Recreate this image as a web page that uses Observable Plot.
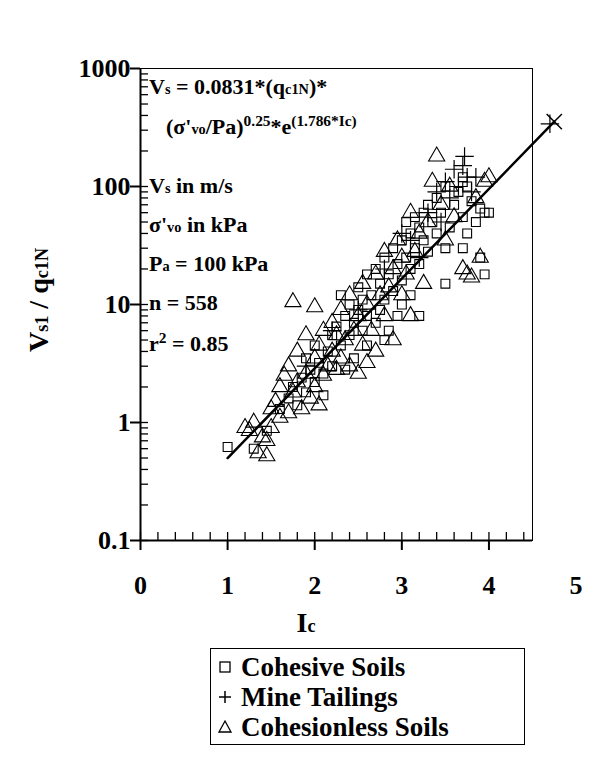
<!DOCTYPE html>
<html><head><meta charset="utf-8">
<script src="https://cdn.jsdelivr.net/npm/d3@7"></script>
<script src="https://cdn.jsdelivr.net/npm/@observablehq/plot@0.6"></script>
<style>
body{margin:0;background:#fff;font-family:'Liberation Serif','Times New Roman',Times,serif;}
#wrap{position:relative;width:604px;height:760px;}
#legend{position:absolute;left:210px;top:648px;width:315px;height:97px;border:1px solid #000;font-weight:bold;font-size:27px;line-height:30px;padding-top:3px;box-sizing:border-box;}
#legend div{display:flex;align-items:center;padding-left:6px;}
#legend svg{margin-right:8px;}
</style></head>
<body><div id="wrap"><div id="chart"></div>
<div id="legend">
<div><svg width="16" height="16"><rect x="3" y="3" width="10" height="10" fill="none" stroke="#000" stroke-width="1.3"/></svg>Cohesive Soils</div>
<div><svg width="16" height="16"><path d="M8 2V14M2 8H14" stroke="#000" stroke-width="1.5"/></svg>Mine Tailings</div>
<div><svg width="16" height="16"><path d="M8 2L14 13H2Z" fill="none" stroke="#000" stroke-width="1.3"/></svg>Cohesionless Soils</div>
</div></div>
<script>
const cohesive = [[1.0,0.62],[1.3,0.6],[1.45,0.85],[1.6,1.3],[1.7,1.6],[1.75,2.0],[1.8,1.4],[1.85,2.4],[1.9,1.8],[1.95,2.8],[2.0,2.2],[2.05,3.2],[2.1,2.6],[2.15,4.0],[2.2,3.0],[2.2,5.5],[2.25,6.5],[2.3,4.5],[2.3,12],[2.35,8],[2.4,5.5],[2.4,10],[2.45,7],[2.5,9],[2.5,14],[2.55,6],[2.55,11],[2.6,8],[2.6,18],[2.65,12],[2.7,20],[2.7,7],[2.75,15],[2.75,9],[2.8,25],[2.8,11],[2.85,18],[2.85,6],[2.9,30],[2.9,13],[2.95,22],[2.95,8],[3.0,35],[3.0,16],[3.0,10],[3.05,50],[3.05,25],[3.1,40],[3.1,20],[3.1,12],[3.15,30],[3.15,55],[3.2,45],[3.2,22],[3.25,60],[3.25,35],[3.3,70],[3.3,28],[3.35,50],[3.4,40],[3.4,80],[3.45,60],[3.5,100],[3.5,30],[3.55,45],[3.6,70],[3.65,90],[3.7,120],[3.7,55],[3.75,100],[3.75,40],[3.8,75],[3.85,50],[3.9,65],[3.95,60],[4.0,60],[3.9,25],[3.95,18],[3.7,30],[2.0,4.5],[1.9,3.5],[2.6,4.5],[2.8,5],[2.45,3.5],[3.2,8],[3.5,15],[2.35,2.8],[2.1,1.7]];
const tailings = [[3.3,60],[3.4,90],[3.45,50],[3.5,110],[3.55,80],[3.6,140],[3.65,100],[3.7,150],[3.72,180],[3.75,120],[3.8,90],[3.85,120],[3.1,35],[3.2,25],[2.8,20],[2.5,9],[2.2,6],[1.9,3],[3.0,40],[4.7,340]];
const cohesionless = [[1.2,0.9],[1.3,1.0],[1.35,0.55],[1.45,0.52],[1.45,0.7],[1.5,1.3],[1.5,0.9],[1.55,1.5],[1.6,2.0],[1.6,1.1],[1.65,2.5],[1.7,1.2],[1.7,3.0],[1.75,1.8],[1.75,10.5],[1.8,2.2],[1.8,4.0],[1.85,1.3],[1.9,2.6],[1.9,5.5],[1.95,1.6],[2.0,3.5],[2.0,2.0],[2.05,1.4],[2.05,4.5],[2.1,6],[2.1,2.5],[2.15,3.0],[2.2,7],[2.2,4.0],[2.25,2.8],[2.3,9],[2.3,3.5],[2.35,5],[2.4,12],[2.4,3.0],[2.45,6],[2.5,8],[2.5,2.6],[2.55,15],[2.55,4.5],[2.6,10],[2.65,6],[2.7,18],[2.7,4],[2.75,12],[2.8,8],[2.8,28],[2.85,14],[2.9,20],[2.9,5],[2.95,35],[3.0,25],[3.0,12],[3.05,18],[3.1,60],[3.1,8],[3.15,28],[3.2,40],[3.25,15],[3.3,50],[3.35,110],[3.4,180],[3.45,70],[3.5,35],[3.55,100],[3.6,55],[3.7,20],[3.75,18],[3.8,17],[3.9,25],[3.95,110],[4.0,120],[3.85,80],[1.4,0.75],[1.25,0.85],[2.0,9.5],[2.25,5.5],[2.6,3.2]];
const fitLine = [[1.0,0.5],[4.75,355]];
const fitEnd = [[4.75,355]];
const xTicks = [0,1,2,3,4,5];
const xMinor = d3.range(0,4.5,0.2);
const yTicks = [0.1,1,10,100,1000];
const yMinor = [0.1,1,10,100].flatMap(d => d3.range(1,10).map(k => +(d*k).toPrecision(3)));

const font = "'Liberation Serif', 'Times New Roman', Times, serif";
const chart = Plot.plot({
  width: 604, height: 640,
  marginLeft: 140, marginRight: 72, marginTop: 68, marginBottom: 100,
  style: {fontFamily: font, fontWeight: "bold", fontSize: "26px", color: "#000"},
  x: {domain: [0, 4.5]},
  y: {type: "log", domain: [0.1, 1000]},
  marks: [
    Plot.frame({stroke: "#000", strokeWidth: 1}),
    Plot.ruleY([0.1], {stroke: "#000", strokeWidth: 2}),
    Plot.ruleX([0], {stroke: "#000", strokeWidth: 2}),
    Plot.axisX({ticks: xMinor, tickSize: -8, text: null, label: null, stroke: "#000", strokeWidth: 1.3}),
    Plot.axisX({ticks: [0,1,2,3,4], tickSize: 10, text: null, label: null, stroke: "#000", strokeWidth: 2}),
    Plot.axisY({ticks: yMinor, tickSize: -8, text: null, label: null, stroke: "#000", strokeWidth: 1.3}),
    Plot.axisY({ticks: yTicks, tickSize: 10, text: null, label: null, stroke: "#000", strokeWidth: 2}),
    Plot.text(xTicks, {x: d => d, frameAnchor: "bottom", dy: 53, text: d => String(d), fontSize: 26, fontWeight: "bold"}),
    Plot.text(yTicks, {y: d => d, frameAnchor: "left", dx: -10, textAnchor: "end", text: d => String(d), fontSize: 26, fontWeight: "bold"}),
    Plot.dot(cohesive, {x: "0", y: "1", symbol: "square", r: 5, stroke: "#000", strokeWidth: 1.1, fill: "none"}),
    Plot.dot(cohesionless, {x: "0", y: "1", symbol: "triangle", r: 6, stroke: "#000", strokeWidth: 1.1, fill: "none"}),
    Plot.dot(tailings, {x: "0", y: "1", symbol: "plus", r: 6, stroke: "#000", strokeWidth: 1.2}),
    Plot.line(fitLine, {x: "0", y: "1", stroke: "#000", strokeWidth: 2.5}),
    Plot.dot(fitEnd, {x: "0", y: "1", symbol: "times", r: 7, stroke: "#000", strokeWidth: 1.5})
  ]
});
const svg = d3.select(chart);
function rich(x, y, parts, opts = {}) {
  const size = opts.size || 22;
  const t = svg.append("text").attr("x", x).attr("y", y)
    .attr("font-family", font).attr("font-weight", "bold").attr("font-size", size).attr("fill", "#000")
    .attr("text-anchor", opts.anchor || "start");
  if (opts.rotate) t.attr("transform", `rotate(-90 ${x} ${y})`);
  for (const p of parts) {
    const [s, k] = Array.isArray(p) ? p : [p, ""];
    const ts = t.append("tspan").text(s);
    if (k === "sub") ts.attr("font-size", size * 0.65);
    if (k === "sup") ts.attr("font-size", size * 0.7).attr("baseline-shift", "super");
  }
}
rich(149, 94, ["V", ["s", "sub"], " = 0.0831*(q", ["c1N", "sub"], ")*"]);
rich(166, 134, ["(σ'", ["vo", "sub"], "/Pa)", ["0.25", "sup"], "*e", ["(1.786*Ic)", "sup"]]);
rich(149, 193, ["V", ["s", "sub"], " in m/s"]);
rich(149, 232, ["σ'", ["vo", "sub"], " in kPa"]);
rich(149, 271, ["P", ["a", "sub"], " = 100 kPa"]);
rich(149, 310, ["n = 558"]);
rich(149, 351, ["r", ["2", "sup"], " = 0.85"]);
rich(48, 300, ["V", ["s1", "sub"], " / q", ["c1N", "sub"]], {size: 28, rotate: true, anchor: "middle"});
rich(306, 632, ["I", ["c", "sub"]], {size: 28, anchor: "middle"});
document.getElementById("chart").append(chart);
</script></body></html>
